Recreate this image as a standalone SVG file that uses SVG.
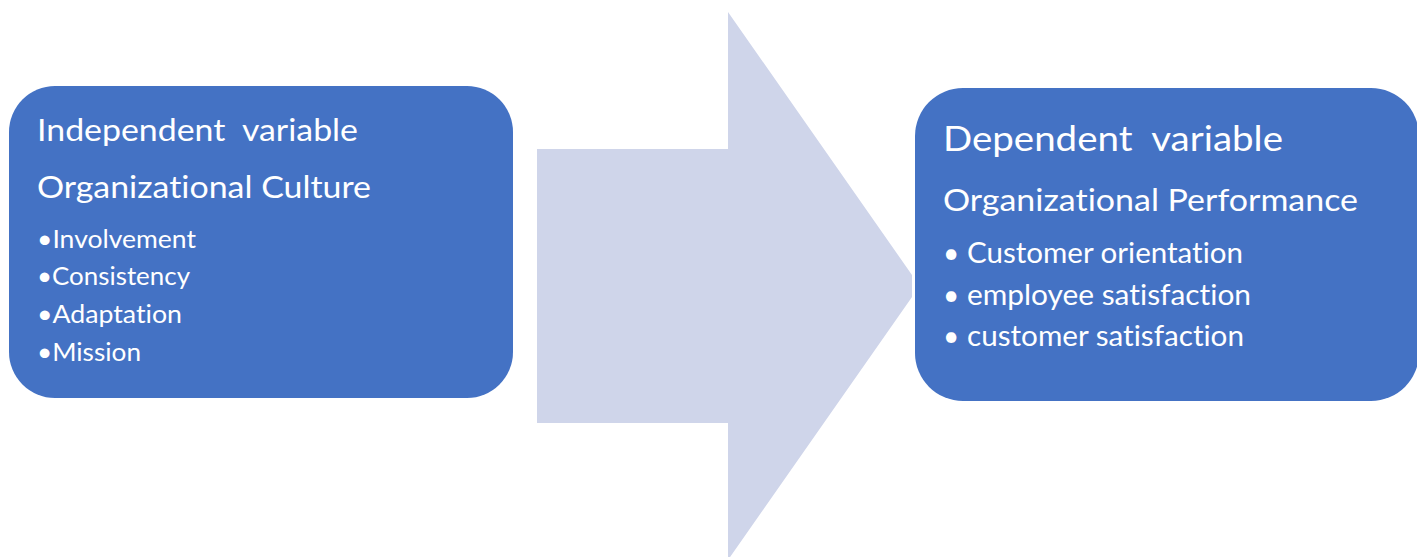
<svg xmlns="http://www.w3.org/2000/svg" width="1417" height="557" viewBox="0 0 1417 557">
<style>
.box{fill:#4472C4}
.arrow{fill:#CFD5EA}
text{font-family:Lato,"Open Sans","Liberation Sans",sans-serif;fill:#FFFFFF;font-variant-ligatures:none;font-feature-settings:"liga" 0}
.t1{font-size:31px}
.t2{font-size:31px}
.b1{font-size:25px}
.b2{font-size:28px}
</style>
<rect width="1417" height="557" fill="#FFFFFF"/>
<g id="connectors">
<polygon class="arrow" points="537,149 728,149 728,12 912,275 912,297 728,560 728,423 537,423"/>
</g>
<g id="node-independent">
<rect class="box" x="9" y="86" width="504" height="312" rx="46" ry="46"/>
<text class="t1" x="37" y="141" textLength="321" lengthAdjust="spacingAndGlyphs" xml:space="preserve">Independent  variable</text>
<text class="t2" x="37" y="198" textLength="334" lengthAdjust="spacingAndGlyphs">Organizational Culture</text>
<text class="b1" x="37" y="248" textLength="159" lengthAdjust="spacingAndGlyphs">•Involvement</text>
<text class="b1" x="37" y="285" textLength="153" lengthAdjust="spacingAndGlyphs">•Consistency</text>
<text class="b1" x="37" y="323" textLength="145" lengthAdjust="spacingAndGlyphs">•Adaptation</text>
<text class="b1" x="37" y="361" textLength="104" lengthAdjust="spacingAndGlyphs">•Mission</text>
</g>
<g id="node-dependent">
<rect class="box" x="915" y="88" width="504" height="313" rx="48" ry="48"/>
<text style="font-size:34px" x="943" y="151" textLength="340" lengthAdjust="spacingAndGlyphs" xml:space="preserve">Dependent  variable</text>
<text class="t2" x="943" y="211" textLength="415" lengthAdjust="spacingAndGlyphs">Organizational Performance</text>
<text class="b2" x="943" y="263">•</text>
<text class="b2" x="967" y="263" textLength="276" lengthAdjust="spacingAndGlyphs">Customer orientation</text>
<text class="b2" x="943" y="305">•</text>
<text class="b2" x="967" y="305" textLength="284" lengthAdjust="spacingAndGlyphs">employee satisfaction</text>
<text class="b2" x="943" y="346">•</text>
<text class="b2" x="967" y="346" textLength="277" lengthAdjust="spacingAndGlyphs">customer satisfaction</text>
</g>
</svg>
